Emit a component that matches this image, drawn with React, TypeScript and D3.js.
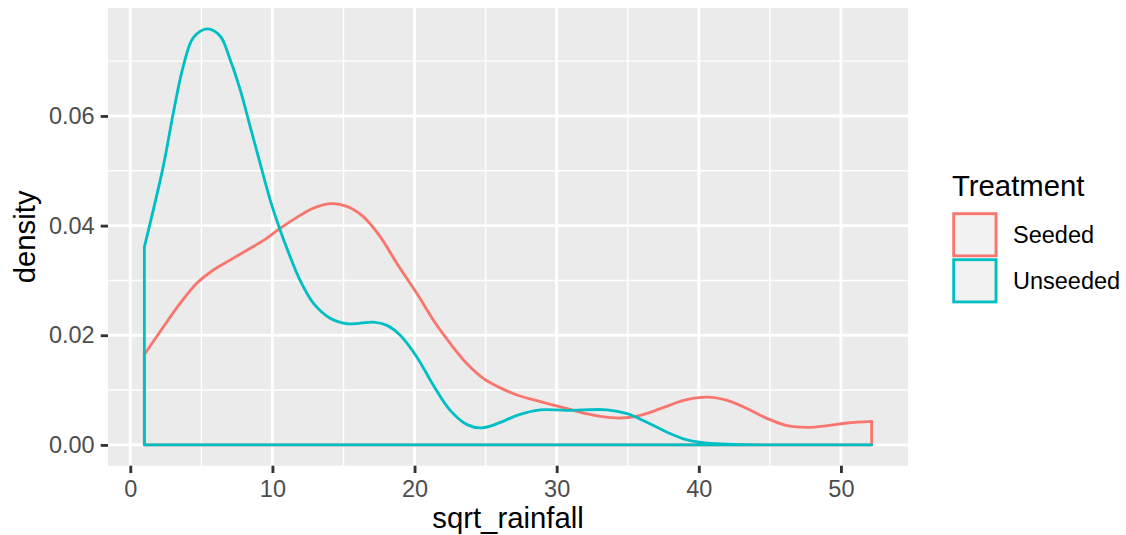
import React, { useEffect, useRef } from "react";
import * as d3 from "d3";

const seededX = [0.99, 2.32, 3.5, 4.68, 5.85, 7.02, 8.2, 9.37, 10.54, 11.72, 12.89, 14.18, 15.24, 16.41, 17.58, 18.76, 20.17, 21.34, 22.51, 23.69, 24.86, 26.04, 27.21, 28.39, 29.56, 30.73, 31.9, 33.08, 34.49, 35.89, 37.3, 38.94, 40.59, 42.0, 43.41, 44.82, 46.23, 47.63, 49.04, 50.45, 52.16];
const seededDensity = [0.0165, 0.0215, 0.0258, 0.0295, 0.0319, 0.0337, 0.0355, 0.0373, 0.0395, 0.0415, 0.0432, 0.044, 0.0435, 0.0416, 0.038, 0.0331, 0.0276, 0.0227, 0.0185, 0.0148, 0.0121, 0.0104, 0.0091, 0.0082, 0.0074, 0.0066, 0.0058, 0.0052, 0.0049, 0.0054, 0.0066, 0.0081, 0.0087, 0.0081, 0.0066, 0.0048, 0.0035, 0.0032, 0.0035, 0.004, 0.0043];

const unseededX = [0.99, 2.32, 3.03, 3.73, 4.44, 5.42, 6.32, 7.02, 7.73, 8.43, 9.13, 9.84, 10.54, 11.25, 11.95, 12.89, 14.06, 15.24, 16.2, 17.11, 18.06, 18.99, 20.17, 21.34, 22.51, 23.69, 24.75, 26.04, 27.21, 28.85, 30.73, 33.55, 34.96, 36.37, 37.77, 39.18, 40.59, 42.46, 44.35, 47.17, 49.99, 52.16];
const unseededDensity = [0.0361, 0.0508, 0.0606, 0.0691, 0.0743, 0.0759, 0.0746, 0.0703, 0.0648, 0.0581, 0.0514, 0.0447, 0.0392, 0.0343, 0.03, 0.0258, 0.0231, 0.0221, 0.0222, 0.0224, 0.0218, 0.02, 0.016, 0.0108, 0.0063, 0.0037, 0.0031, 0.0041, 0.0054, 0.0064, 0.0063, 0.0064, 0.0057, 0.0041, 0.0023, 0.0009, 0.0003, 0.0001, 0, 0, 0, 0];

const treatments = ["Seeded", "Unseeded"];
const colors = ["#F8766D", "#00BFC4"];
const xTicks = [0, 10, 20, 30, 40, 50];
const xMinor = [5, 15, 25, 35, 45];
const yTicks = [0, 0.02, 0.04, 0.06];
const yMinor = [0.01, 0.03, 0.05, 0.07];

const FONT = "'Liberation Sans', Arial, Helvetica, sans-serif";

export default function App() {
  const svgRef = useRef<SVGSVGElement>(null);

  useEffect(() => {
    const width = 1126;
    const height = 535;
    const panel = { left: 108, right: 908, top: 8, bottom: 465.7 };

    const svg = d3.select(svgRef.current);
    svg.selectAll("*").remove();
    svg.attr("width", width).attr("height", height);

    svg.append("rect").attr("width", width).attr("height", height).attr("fill", "#FFFFFF");

    const series = [
      seededX.map((x, i) => ({ x, y: seededDensity[i] })),
      unseededX.map((x, i) => ({ x, y: unseededDensity[i] })),
    ];

    // ggplot style 5% expansion
    const allX = [...seededX, ...unseededX];
    const [x0, x1] = d3.extent(allX) as [number, number];
    const xPad = (x1 - x0) * 0.05;
    const yMax = d3.max([...seededDensity, ...unseededDensity]) as number;
    const yPad = yMax * 0.05;

    const xScale = d3.scaleLinear().domain([x0 - xPad, x1 + xPad]).range([panel.left, panel.right]);
    const yScale = d3.scaleLinear().domain([0 - yPad, yMax + yPad]).range([panel.bottom, panel.top]);

    /* ---------------- Panel + grid ---------------- */
    svg
      .append("rect")
      .attr("x", panel.left)
      .attr("y", panel.top)
      .attr("width", panel.right - panel.left)
      .attr("height", panel.bottom - panel.top)
      .attr("fill", "#EBEBEB");

    const grid = svg.append("g");
    yMinor.forEach((v) => {
      grid.append("line")
        .attr("x1", panel.left).attr("x2", panel.right)
        .attr("y1", yScale(v)).attr("y2", yScale(v))
        .attr("stroke", "#FFFFFF").attr("stroke-width", 1.42);
    });
    xMinor.forEach((v) => {
      grid.append("line")
        .attr("x1", xScale(v)).attr("x2", xScale(v))
        .attr("y1", panel.top).attr("y2", panel.bottom)
        .attr("stroke", "#FFFFFF").attr("stroke-width", 1.42);
    });
    yTicks.forEach((v) => {
      grid.append("line")
        .attr("x1", panel.left).attr("x2", panel.right)
        .attr("y1", yScale(v)).attr("y2", yScale(v))
        .attr("stroke", "#FFFFFF").attr("stroke-width", 2.84);
    });
    xTicks.forEach((v) => {
      grid.append("line")
        .attr("x1", xScale(v)).attr("x2", xScale(v))
        .attr("y1", panel.top).attr("y2", panel.bottom)
        .attr("stroke", "#FFFFFF").attr("stroke-width", 2.84);
    });

    /* ---------------- Densities ---------------- */
    const area = d3
      .area<{ x: number; y: number }>()
      .x((d) => xScale(d.x))
      .y0(yScale(0))
      .y1((d) => Math.min(yScale(d.y), yScale(0)))
      .curve(d3.curveCatmullRom.alpha(0.5));

    series.forEach((s, i) => {
      svg.append("path")
        .datum(s)
        .attr("fill", "none")
        .attr("stroke", colors[i])
        .attr("stroke-width", 2.84)
        .attr("stroke-linejoin", "round")
        .attr("d", area);
    });

    /* ---------------- Axes ---------------- */
    const xAxis = svg.append("g")
      .attr("transform", `translate(0,${panel.bottom})`)
      .call(d3.axisBottom(xScale).tickValues(xTicks).tickSize(7.3).tickPadding(7.5).tickFormat(d3.format("d")));
    const yAxis = svg.append("g")
      .attr("transform", `translate(${panel.left},0)`)
      .call(d3.axisLeft(yScale).tickValues(yTicks).tickSize(7.3).tickPadding(6).tickFormat(d3.format(".2f")));

    [xAxis, yAxis].forEach((ax) => {
      ax.select(".domain").remove();
      ax.selectAll(".tick line").attr("stroke", "#333333").attr("stroke-width", 2.84);
      ax.selectAll(".tick text")
        .attr("fill", "#4D4D4D")
        .style("font-family", FONT)
        .style("font-size", "23.5px");
    });

    svg.append("text")
      .attr("x", (panel.left + panel.right) / 2)
      .attr("y", 528)
      .attr("text-anchor", "middle")
      .style("font-family", FONT)
      .style("font-size", "29.3px")
      .attr("fill", "#000000")
      .text("sqrt_rainfall");

    svg.append("text")
      .attr("transform", `translate(35,${(panel.top + panel.bottom) / 2}) rotate(-90)`)
      .attr("text-anchor", "middle")
      .style("font-family", FONT)
      .style("font-size", "29.3px")
      .attr("fill", "#000000")
      .text("density");

    /* ---------------- Legend ---------------- */
    const legend = svg.append("g");
    legend.append("text")
      .attr("x", 952)
      .attr("y", 196)
      .style("font-family", FONT)
      .style("font-size", "29.3px")
      .attr("fill", "#000000")
      .text("Treatment");

    treatments.forEach((t, i) => {
      const ky = 211.5 + i * 46;
      legend.append("rect")
        .attr("x", 952).attr("y", ky)
        .attr("width", 46).attr("height", 46)
        .attr("fill", "#F2F2F2");
      legend.append("rect")
        .attr("x", 953.7).attr("y", ky + 2.2)
        .attr("width", 42.3).attr("height", 42.2)
        .attr("fill", "none")
        .attr("stroke", colors[i])
        .attr("stroke-width", 2.84);
      legend.append("text")
        .attr("x", 1013)
        .attr("y", ky + 23 + 8.4)
        .style("font-family", FONT)
        .style("font-size", "23.5px")
        .attr("fill", "#000000")
        .text(t);
    });
  }, []);

  return (
    <div style={{ position: "absolute", left: 0, top: 0 }}>
      <svg ref={svgRef} style={{ display: "block" }} />
    </div>
  );
}
